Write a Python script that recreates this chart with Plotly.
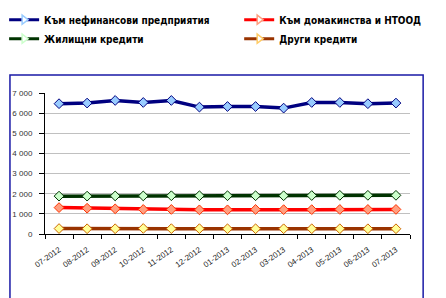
import plotly.graph_objects as go

months = ["07-2012", "08-2012", "09-2012", "10-2012", "11-2012", "12-2012", "01-2013",
          "02-2013", "03-2013", "04-2013", "05-2013", "06-2013", "07-2013"]
nonfin = [6470, 6500, 6630, 6530, 6630, 6300, 6330, 6330, 6250, 6530, 6530, 6470, 6500]
households = [1310, 1280, 1250, 1220, 1220, 1200, 1200, 1220, 1210, 1210, 1220, 1220, 1220]
housing = [1880, 1880, 1890, 1890, 1900, 1900, 1900, 1900, 1900, 1910, 1920, 1920, 1920]
other = [270, 260, 260, 275, 265, 265, 260, 260, 260, 260, 260, 260, 260]

names = ["Към нефинансови предприятия", "Към домакинства и НТООД",
         "Жилищни кредити", "Други кредити"]
series = [nonfin, households, housing, other]
line_colors = ["#000080", "#ff0000", "#003300", "#993300"]
fill_colors = ["#99ccff", "#ff9f80", "#ccffcc", "#ffff99"]
edge_colors = ["#000080", "#ff3300", "#003300", "#cc6600"]
legend_ids = ["legend", "legend2", "legend", "legend2"]

fig = go.Figure()
for i in [3, 1, 2, 0]:
    fig.add_trace(go.Scatter(
        x=months, y=series[i], mode="lines+markers", showlegend=False,
        line=dict(color=line_colors[i], width=3.5),
        marker=dict(symbol="diamond", size=7.5, color=fill_colors[i],
                    line=dict(color=edge_colors[i], width=1)),
    ))
for i in range(4):
    fig.add_trace(go.Scatter(
        x=[None], y=[None], mode="lines+markers", name="<b>" + names[i] + "</b>",
        legend=legend_ids[i],
        line=dict(color=line_colors[i], width=3),
        marker=dict(symbol="triangle-right", size=8, color="#ffffff",
                    line=dict(color=fill_colors[i] if i != 3 else "#ffcc66", width=1.5)),
    ))

legend_font = dict(family="Liberation Sans Narrow, Arial Narrow, DejaVu Sans Condensed, sans-serif",
                   size=10, color="#000000")
fig.update_layout(
    width=438, height=290,
    margin=dict(l=37, r=36, t=85, b=64, autoexpand=False),
    paper_bgcolor="white", plot_bgcolor="white",
    separators=", ",
    font=dict(family="Liberation Sans, Arial, sans-serif", size=8, color="#333333"),
    legend=dict(orientation="v", x=-0.112, xanchor="left", y=1.623, yanchor="top",
                traceorder="normal", itemwidth=30, font=legend_font, bgcolor="rgba(0,0,0,0)"),
    legend2=dict(orientation="v", x=0.532, xanchor="left", y=1.623, yanchor="top",
                 traceorder="normal", itemwidth=30, font=legend_font, bgcolor="rgba(0,0,0,0)"),
    xaxis=dict(type="category", showgrid=False, showline=True, linecolor="#000000", linewidth=1,
               ticks="outside", tickson="boundaries", ticklen=4, tickcolor="#000000",
               tickangle=-35, ticklabelstandoff=7,
               tickfont=dict(size=8, color="#222222"), range=[-0.5, 12.5]),
    yaxis=dict(range=[0, 7000], dtick=1000, tickformat=",d", showgrid=True, gridcolor="#c0c0c0",
               gridwidth=1, showline=True, linecolor="#000000", linewidth=1,
               ticks="outside", ticklen=5, tickcolor="#000000", zeroline=False,
               ticklabelstandoff=5, tickfont=dict(size=8, color="#333333")),
    shapes=[dict(type="rect", xref="paper", yref="paper",
                 x0=-0.096, x1=1.036, y0=-0.6, y1=1.128,
                 line=dict(color="#1a1aa6", width=1.5), fillcolor="rgba(0,0,0,0)", layer="below")],
)

fig.write_html("out.html")
